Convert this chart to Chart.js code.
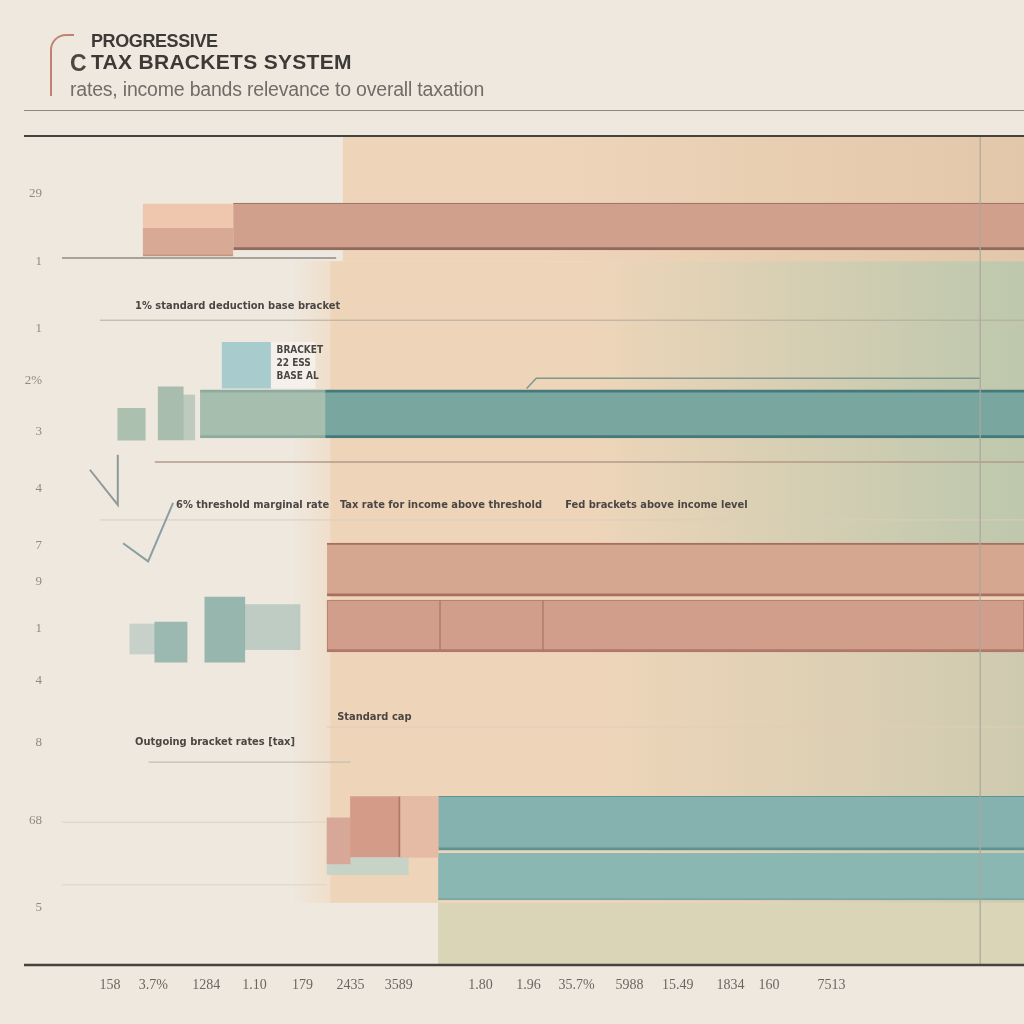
<!DOCTYPE html>
<html>
<head>
<meta charset="utf-8">
<title>Progressive Tax Brackets System</title>
<script src="https://cdn.jsdelivr.net/npm/chart.js@4.4.1/dist/chart.umd.min.js"></script>
<style>
  html, body { margin: 0; padding: 0; background: #efe8de; }
  #wrap { position: relative; width: 1024px; height: 1024px; overflow: hidden; background: #efe8de; }
  #chart { position: absolute; left: 0; top: 0; }
  .logo { position: absolute; left: 50px; top: 34px; width: 22px; height: 60px; border-left: 2px solid #b56a55; border-top: 2px solid #b56a55; border-top-left-radius: 16px; opacity: 0.8; }
  .logoC { position: absolute; left: 70px; top: 50px; font: bold 23px "Liberation Sans", Arial, sans-serif; color: #4a4643; }
  .t1 { position: absolute; left: 91px; top: 31px; font: bold 18px "Liberation Sans", Arial, sans-serif; color: #3c3937; letter-spacing: -0.4px; }
  .t2 { position: absolute; left: 91px; top: 50px; font: bold 21px "Liberation Sans", Arial, sans-serif; color: #3c3937; letter-spacing: 0.3px; }
  .sub { position: absolute; left: 70px; top: 78px; font: 19.5px "Liberation Sans", Arial, sans-serif; color: #706c68; letter-spacing: -0.2px; }
  .rule { position: absolute; left: 24px; top: 110px; width: 1000px; height: 0; border-top: 1.5px solid #8b8781; }
</style>
</head>
<body>
<div id="wrap">
  <canvas id="chart" width="1024" height="1024"></canvas>
  <div class="logo"></div>
  <div class="logoC">C</div>
  <div class="t1">PROGRESSIVE</div>
  <div class="t2">TAX BRACKETS SYSTEM</div>
  <div class="sub">rates, income bands relevance to overall taxation</div>
  <div class="rule"></div>
</div>
<script>
// x axis: taxable income scale, y axis: bracket rows (0 = top)
const xTickValues = [10, 19, 30, 40, 50, 60, 70, 87, 97, 107, 118, 128, 139, 147, 160];
const xTickLabels = ['158', '3.7%', '1284', '1.10', '179', '2435', '3589', '1.80', '1.96', '35.7%', '5988', '15.49', '1834', '160', '7513'];
const yTickValues = [1.1, 2.4, 3.7, 4.7, 5.7, 6.8, 7.9, 8.6, 9.5, 10.5, 11.7, 13.2, 14.9];
const yTickLabels = ['29', '1', '1', '2%', '3', '4', '7', '9', '1', '4', '8', '68', '5'];

// main bracket bands
const topBandRows = [1.73, 1.73];
const topBandRanges = [[16.8, 35.6], [35.6, 200]];
const topStubRows = [2.03];
const topStubRanges = [[16.8, 35.6]];
const midBandRows = [5.35, 5.35];
const midBandRanges = [[28.7, 54.7], [54.7, 200]];
const upperSalmonRows = [8.36];
const upperSalmonRanges = [[55.1, 200]];
const lowerSalmonRows = [9.45, 9.45, 9.45];
const lowerSalmonRanges = [[55.1, 78.6], [78.6, 100], [100, 200]];
const tealRowsA = [13.26];
const tealRangesA = [[78.2, 200]];
const tealRowsB = [14.29];
const tealRangesB = [[78.2, 200]];

// small side blocks
const blueBoxRows = [4.41];
const blueBoxRanges = [[33.3, 43.5]];
const noteBoxRanges = [[43.5, 52.6]];
const sageRows = [5.55, 5.34, 5.42];
const sageRanges = [[11.6, 17.3], [20, 25.2], [25.2, 27.6]];
const clusterRows = [9.76, 9.52, 9.47, 9.7];
const clusterRanges = [[19.3, 26], [29.7, 38], [38, 49.5], [14.1, 19.3]];
const smallSalmonRows = [13.33, 13.33, 13.6];
const smallSalmonRanges = [[59.9, 70.3], [70.3, 78.2], [55.1, 59.9]];
const paleTealRows = [14.08];
const paleTealRanges = [[55.1, 72]];

// guide lines
const guideTop = [{x: 0, y: 2.34}, {x: 57, y: 2.34}];
const guideNote = [{x: 7.9, y: 3.54}, {x: 200, y: 3.54}];
const guideStep = [{x: 96.6, y: 4.86}, {x: 98.6, y: 4.66}, {x: 190.8, y: 4.66}];
const guideMid = [{x: 19.3, y: 6.28}, {x: 200, y: 6.28}];
const guideFaint = [{x: 7.9, y: 7.4}, {x: 200, y: 7.4}];
const guideLow = [{x: 18, y: 12.08}, {x: 60, y: 12.08}];
const guideLow2 = [{x: 0, y: 13.24}, {x: 55, y: 13.24}];
const guideLow3 = [{x: 0, y: 14.45}, {x: 55, y: 14.45}];
const guideSub = [{x: 55, y: 11.4}, {x: 200, y: 11.4}];
const markerLine = [{x: 190.9, y: 0}, {x: 190.9, y: 16}];
const zigA = [{x: 5.8, y: 6.43}, {x: 11.6, y: 7.11}, {x: 11.6, y: 6.14}];
const zigB = [{x: 12.7, y: 7.85}, {x: 17.9, y: 8.2}, {x: 23.1, y: 7.07}];

// notes
const noteText = ['1% standard deduction base bracket', 'BRACKET', '22 ESS', 'BASE AL',
  '6% threshold marginal rate', 'Tax rate for income above threshold', 'Fed brackets above income level',
  'Standard cap', 'Outgoing bracket rates [tax]'];
const noteAt = [[15.2, 3.27], [44.6, 4.12], [44.6, 4.37], [44.6, 4.62],
  [23.7, 7.11], [57.8, 7.11], [104.6, 7.11], [57.2, 11.21], [15.2, 11.69]];

function bars(rows, ranges, color, thickness, extra) {
  return Object.assign({
    type: 'bar',
    data: rows.map((r, i) => ({y: r, x: ranges[i]})),
    backgroundColor: color,
    barThickness: thickness,
    stack: 'bands',
    borderSkipped: false,
    borderWidth: 0
  }, extra || {});
}

function line(points, color, width) {
  return {
    type: 'line',
    data: points,
    borderColor: color,
    borderWidth: width,
    pointRadius: 0,
    fill: false,
    tension: 0
  };
}

const backdrop = {
  id: 'backdrop',
  beforeDatasetsDraw(chart) {
    const {ctx, chartArea: a, scales: {x, y}} = chart;
    const px = v => x.getPixelForValue(v);
    const py = v => y.getPixelForValue(v);
    ctx.save();
    // soft fade from cream into the peach field
    let g = ctx.createLinearGradient(px(48), 0, px(56), 0);
    g.addColorStop(0, 'rgba(240,214,186,0)');
    g.addColorStop(1, 'rgba(240,214,186,0.55)');
    ctx.fillStyle = g;
    ctx.fillRect(px(48), py(2.4), px(56) - px(48), py(14.8) - py(2.4));
    ctx.fillStyle = '#eed5b9';
    ctx.fillRect(px(58.4), a.top, a.right - px(58.4), py(2.4) - a.top);
    ctx.fillRect(px(55.8), py(2.4), a.right - px(55.8), py(14.8) - py(2.4));
    // darker toward the right on the top band
    g = ctx.createLinearGradient(px(100), 0, a.right, 0);
    g.addColorStop(0, 'rgba(222,193,163,0)');
    g.addColorStop(1, 'rgba(222,193,163,0.7)');
    ctx.fillStyle = g;
    ctx.fillRect(px(58.4), a.top, a.right - px(58.4), py(2.4) - a.top);
    // green drift in the middle band
    g = ctx.createLinearGradient(px(110), 0, a.right, 0);
    g.addColorStop(0, 'rgba(193,201,174,0)');
    g.addColorStop(0.85, 'rgba(193,201,174,0.95)');
    g.addColorStop(1, 'rgba(190,200,172,1)');
    ctx.fillStyle = g;
    ctx.fillRect(px(110), py(2.4), a.right - px(110), py(8) - py(2.4));
    g = ctx.createLinearGradient(px(110), 0, a.right, 0);
    g.addColorStop(0, 'rgba(206,203,176,0)');
    g.addColorStop(1, 'rgba(200,200,174,0.85)');
    ctx.fillStyle = g;
    ctx.fillRect(px(110), py(9.8), a.right - px(110), py(14.8) - py(9.8));
    // pale strip at the bottom
    ctx.fillStyle = '#dbd5b8';
    ctx.fillRect(px(78.2), py(14.8), a.right - px(78.2), a.bottom - py(14.8));
    ctx.restore();
  },
  afterDraw(chart) {
    const {ctx, chartArea: a} = chart;
    ctx.save();
    ctx.strokeStyle = '#46423e';
    ctx.lineWidth = 2;
    ctx.beginPath();
    ctx.moveTo(24, a.top - 1);
    ctx.lineTo(1024, a.top - 1);
    ctx.stroke();
    ctx.lineWidth = 2.5;
    ctx.beginPath();
    ctx.moveTo(24, a.bottom);
    ctx.lineTo(1024, a.bottom);
    ctx.stroke();
    ctx.restore();
  }
};

const notes = {
  id: 'notes',
  afterDatasetsDraw(chart) {
    const {ctx, scales: {x, y}} = chart;
    ctx.save();
    ctx.fillStyle = '#4b4643';
    ctx.textBaseline = 'middle';
    noteText.forEach((t, i) => {
      const small = i >= 1 && i <= 3;
      ctx.font = small ? 'bold 10px "DejaVu Sans Condensed", "DejaVu Sans", sans-serif'
                       : 'bold 11px "DejaVu Sans Condensed", "DejaVu Sans", sans-serif';
      ctx.fillText(t, x.getPixelForValue(noteAt[i][0]), y.getPixelForValue(noteAt[i][1]));
    });
    ctx.restore();
  }
};

new Chart(document.getElementById('chart'), {
  data: {
    datasets: [
      line(markerLine, 'rgba(170,168,158,0.8)', 1.5),
      line(zigA, '#8e9a9a', 2),
      line(zigB, '#8a9ea4', 2),
      line(guideTop, '#8f8b83', 1.5),
      line(guideNote, '#b3aa9e', 1),
      line(guideStep, '#7f9590', 1.5),
      line(guideMid, '#b39a88', 1.5),
      line(guideFaint, '#d9cdbd', 1),
      line(guideLow, '#c4bcb1', 1.2),
      line(guideLow2, '#dad2c7', 1),
      line(guideLow3, '#dcd4c9', 1),
      line(guideSub, '#e2cdb5', 1),
      bars(blueBoxRows, noteBoxRanges, '#f5f1ea', 46),
      bars(blueBoxRows, blueBoxRanges, '#a8cbce', 46),
      bars(sageRows.slice(0, 1), sageRanges.slice(0, 1), 'rgba(160,184,168,0.85)', 32),
      bars(sageRows.slice(1, 2), sageRanges.slice(1, 2), 'rgba(160,184,168,0.9)', 53),
      bars(sageRows.slice(2), sageRanges.slice(2), 'rgba(170,190,176,0.7)', 45),
      bars(clusterRows.slice(0, 1), clusterRanges.slice(0, 1), 'rgba(140,176,168,0.85)', 40),
      bars(clusterRows.slice(1, 2), clusterRanges.slice(1, 2), 'rgba(140,176,168,0.9)', 65),
      bars(clusterRows.slice(2, 3), clusterRanges.slice(2, 3), 'rgba(150,180,175,0.55)', 45),
      bars(clusterRows.slice(3), clusterRanges.slice(3), 'rgba(165,190,184,0.55)', 30),
      bars(smallSalmonRows.slice(0, 1), smallSalmonRanges.slice(0, 1), '#d49b88', 61,
        {borderWidth: {left: 0, right: 2, top: 0, bottom: 0}, borderColor: '#b07a69'}),
      bars(smallSalmonRows.slice(1, 2), smallSalmonRanges.slice(1, 2), '#e6bba5', 61),
      bars(smallSalmonRows.slice(2), smallSalmonRanges.slice(2), '#d7a897', 46),
      bars(paleTealRows, paleTealRanges, 'rgba(190,210,202,0.8)', 18),
      bars(topStubRows, topStubRanges, '#d8a994', 28,
        {borderWidth: {left: 0, right: 0, top: 0, bottom: 2}, borderColor: '#c49480'}),
      bars(topBandRows, topBandRanges, ['#efc6ae', '#d1a08c'], 47,
        {borderWidth: {left: 0, right: 0, top: 1, bottom: 3}, borderColor: ['rgba(0,0,0,0)', '#8f6a5e']}),
      bars(midBandRows, midBandRanges, ['#a6bead', '#79a69f'], 48,
        {borderWidth: {left: 0, right: 0, top: 3, bottom: 3}, borderColor: ['#8fab9f', '#447a7c']}),
      bars(upperSalmonRows, upperSalmonRanges, '#d5a690', 53,
        {borderWidth: {left: 0, right: 0, top: 2, bottom: 3}, borderColor: '#a86e5f'}),
      bars(lowerSalmonRows, lowerSalmonRanges, '#d09e8a', 52,
        {borderWidth: {left: 1, right: 1, top: 1, bottom: 3}, borderColor: '#b07868'}),
      bars(tealRowsA, tealRangesA, '#85b2af', 54,
        {borderWidth: {left: 0, right: 0, top: 1, bottom: 3}, borderColor: '#5d9392'}),
      bars(tealRowsB, tealRangesB, '#8bb7b3', 47,
        {borderWidth: {left: 0, right: 0, top: 0, bottom: 2}, borderColor: '#7aa6a3'})
    ]
  },
  options: {
    responsive: false,
    animation: false,
    indexAxis: 'y',
    layout: {padding: {top: 137, left: 0, right: 0, bottom: 0}},
    plugins: {legend: {display: false}, tooltip: {enabled: false}, title: {display: false}},
    scales: {
      x: {
        type: 'linear',
        min: 0,
        max: 200,
        stacked: false,
        grid: {display: false},
        border: {display: false},
        afterBuildTicks: s => { s.ticks = xTickValues.map(v => ({value: v})); },
        afterFit: s => { s.height = 59; },
        ticks: {
          padding: 4,
          color: '#6a6661',
          font: {family: '"Liberation Serif", serif', size: 14},
          maxRotation: 0,
          autoSkip: false,
          callback: (v, i) => xTickLabels[i]
        }
      },
      y: {
        type: 'linear',
        min: 0,
        max: 16,
        reverse: true,
        offset: false,
        grid: {display: false},
        border: {display: false},
        afterBuildTicks: s => { s.ticks = yTickValues.map(v => ({value: v})); },
        afterFit: s => { s.width = 62; },
        ticks: {
          padding: 12,
          color: '#8e8a84',
          font: {family: '"Liberation Serif", serif', size: 13},
          autoSkip: false,
          callback: (v, i) => yTickLabels[i]
        }
      }
    }
  },
  plugins: [backdrop, notes]
});
</script>
</body>
</html>
